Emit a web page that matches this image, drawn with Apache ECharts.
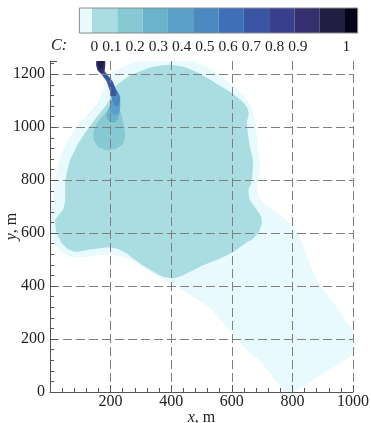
<!DOCTYPE html>
<html><head><meta charset="utf-8">
<script src="https://cdn.jsdelivr.net/npm/echarts@6/dist/echarts.min.js"></script>
<style>html,body{margin:0;padding:0;background:#fff}#c{width:371px;height:423px}</style>
</head><body><div id="c"></div>
<script>
// ---- data ----
const xTickValues = [0, 200, 400, 600, 800, 1000];
const yTickValues = [0, 200, 400, 600, 800, 1000, 1200];
const levelEdges = [-0.05, 0, 0.1, 0.2, 0.3, 0.4, 0.5, 0.6, 0.7, 0.8, 0.9, 1.0, 1.05];
const levelColors = ['#e8fafd','#aadde2','#86c9d3','#6ab3cc','#5aa0c8','#4a88bf','#3f6fb6','#3a55a3','#383f8e','#342f6e','#222040','#05061a'];
const colorLabels = ['0','0.1','0.2','0.3','0.4','0.5','0.6','0.7','0.8','0.9','1'];

// contour regions (x, y in metres), each filled with the colour of its level
const haloOutline = [[182,1185],[205,1205],[235,1225],[270,1242],[315,1250],[470,1250],[520,1225],[565,1190],[600,1160],[640,1120],[668,1065],[680,1000],[686,930],[693,860],[688,800],[682,765],[695,728],[720,700],[755,672],[790,640],[815,605],[832,560],[850,510],[869,448],[900,390],[940,330],[975,270],[1000,225],[1000,146],[957,108],[902,71],[850,32],[815,6],[800,0],[778,0],[759,20],[726,71],[693,118],[660,148],[627,186],[594,234],[561,272],[528,318],[470,362],[415,400],[363,432],[308,470],[253,506],[198,520],[150,515],[110,510],[70,510],[40,528],[20,550],[0,586],[0,665],[9,700],[14,787],[30,875],[53,938],[86,1000],[128,1051],[160,1098],[176,1150]];
const mainOutline = [[200,1118],[220,1158],[264,1195],[300,1212],[330,1225],[370,1234],[400,1236],[440,1228],[484,1208],[539,1172],[594,1134],[630,1102],[650,1076],[656,1050],[650,1020],[652,985],[660,925],[670,875],[668,820],[664,787],[655,762],[660,724],[680,692],[697,662],[699,636],[690,605],[670,578],[649,565],[605,529],[561,504],[495,473],[440,441],[407,429],[374,435],[341,454],[297,485],[253,523],[220,542],[187,546],[132,538],[88,529],[62,538],[40,560],[28,585],[20,610],[17,649],[28,668],[44,690],[50,724],[50,787],[56,830],[66,875],[93,938],[121,988],[154,1038],[180,1075],[195,1100]];
const dropOutline = [[215,1107],[226,1082],[236,1045],[244,1007],[248,969],[242,938],[220,919],[187,913],[160,925],[145,950],[143,981],[154,1013],[176,1045],[198,1070],[209,1095]];
const coreOutline = [[210,1135],[226,1122],[232,1095],[230,1058],[224,1030],[212,1018],[196,1020],[186,1038],[190,1062],[200,1088],[205,1112]];
const innerOutline = [[206,1110],[226,1108],[232,1080],[228,1055],[215,1045],[202,1055],[198,1080]];
const jetOutline = [[204,1140],[220,1140],[232,1115],[230,1092],[222,1078],[212,1085],[205,1105],[200,1125]];
const bandOutline = [[153,1250],[154,1228],[163,1210],[186,1174],[197,1140],[203,1118],[218,1120],[219,1138],[206,1174],[181,1211],[178,1230],[178,1250]];
const sourceOutline = [[155,1250],[153,1235],[157,1215],[166,1205],[176,1206],[181,1220],[182,1250]];
const coreSourceOutline = [[159,1250],[158,1232],[164,1220],[173,1222],[177,1250]];

const regions = [
  {level: 0, pts: haloOutline},
  {level: 1, pts: mainOutline},
  {level: 2, pts: dropOutline},
  {level: 3, pts: coreOutline},
  {level: 4, pts: innerOutline},
  {level: 5, pts: jetOutline},
  {level: 7, pts: bandOutline},
  {level: 9, pts: sourceOutline},
  {level: 10, pts: coreSourceOutline}
];

const serif = '"Liberation Serif", "Times New Roman", serif';
const ink = '#222';
const axisColor = '#555';
const gridColor = '#808080';

const chart = echarts.init(document.getElementById('c'), null, {renderer: 'canvas'});
const labelRow = colorLabels.slice(0, -1).join(' ') + ' '.repeat(9) + colorLabels[colorLabels.length - 1];

chart.setOption({
  animation: false,
  backgroundColor: '#fff',
  grid: [
    {left: 50, right: 18, top: 61, bottom: 31, containLabel: false, outerBoundsMode: 'none'},
    {left: 92, right: 26, top: 8, height: 25, containLabel: false, outerBoundsMode: 'none'}
  ],
  xAxis: [
    {
      gridIndex: 0, type: 'value', min: 0, max: 1000, interval: 200, z: 5,
      axisLine: {show: true, onZero: false, lineStyle: {color: axisColor, width: 1}},
      axisTick: {show: true, inside: true, length: 7, lineStyle: {color: axisColor}},
      minorTick: {show: true, splitNumber: 5, length: 4, lineStyle: {color: axisColor}},
      axisLabel: {formatter: v => (v === 0 ? '' : String(v)), fontFamily: serif, fontSize: 16, color: ink, margin: 2},
      splitLine: {show: true, showMinLine: false, lineStyle: {color: gridColor, type: [9, 4], width: 1}},
      name: '{i|x}, m', nameLocation: 'middle', nameGap: 18, nameMoveOverlap: false,
      nameTextStyle: {fontFamily: serif, fontSize: 16, color: ink, rich: {i: {fontStyle: 'italic', fontFamily: serif, fontSize: 16, color: ink}}}
    },
    {gridIndex: 1, type: 'value', min: 0, max: 1, show: false}
  ],
  yAxis: [
    {
      gridIndex: 0, type: 'value', position: 'left', offset: 0, min: 0, max: 1250, interval: 200, z: 5,
      axisLine: {show: true, onZero: false, lineStyle: {color: axisColor, width: 1}},
      axisTick: {show: true, inside: true, length: 7, lineStyle: {color: axisColor}},
      axisLabel: {formatter: v => (v > 1200 ? '' : String(v)), fontFamily: serif, fontSize: 16, color: ink, margin: 5},
      splitLine: {show: true, showMinLine: false, showMaxLine: false, lineStyle: {color: gridColor, type: [9, 4], width: 1}},
      name: '{i|y}, m', nameLocation: 'middle', nameGap: 30, nameRotate: 90, nameMoveOverlap: false,
      nameTextStyle: {fontFamily: serif, fontSize: 16, color: ink, rich: {i: {fontStyle: 'italic', fontFamily: serif, fontSize: 16, color: ink}}}
    },
    {
      gridIndex: 0, type: 'value', position: 'left', offset: 0, min: 0, max: 1250, interval: 40, z: 5,
      axisLine: {show: false},
      axisTick: {show: true, inside: true, length: 4, lineStyle: {color: axisColor}},
      axisLabel: {show: false},
      splitLine: {show: false}
    },
    {gridIndex: 1, type: 'value', min: 0, max: 1, show: false}
  ],
  graphic: [
    {type: 'text', left: 51, top: 38, style: {text: 'C:', font: 'italic 16px ' + serif, fill: ink}},
    {type: 'text', left: 90.5, top: 39, style: {text: labelRow, font: '15.5px ' + serif, fill: ink}}
  ],
  series: [
    {
      type: 'custom', xAxisIndex: 0, yAxisIndex: 0, z: 2, silent: true, clip: true,
      data: regions.map((r, i) => [i]),
      renderItem: (params, api) => {
        const r = regions[params.dataIndex];
        return {
          type: 'polygon',
          shape: {points: r.pts.map(p => api.coord(p)), smooth: 0.15},
          style: {fill: levelColors[r.level], stroke: null}
        };
      }
    },
    {
      type: 'custom', xAxisIndex: 1, yAxisIndex: 2, silent: true, clip: false,
      data: levelColors.map((c, i) => [i]),
      renderItem: (params, api) => {
        const i = params.dataIndex;
        const a = api.coord([levelEdges[i], 1]);
        const b = api.coord([levelEdges[i + 1], 0]);
        return {type: 'rect', shape: {x: a[0], y: a[1], width: b[0] - a[0], height: b[1] - a[1]}, style: {fill: levelColors[i], stroke: null}};
      }
    },
    {
      type: 'custom', xAxisIndex: 1, yAxisIndex: 2, silent: true, clip: false, z: 3,
      data: [[0]],
      renderItem: (params, api) => {
        const a = api.coord([levelEdges[0], 1]);
        const b = api.coord([levelEdges[levelEdges.length - 1], 0]);
        return {type: 'rect', shape: {x: a[0], y: a[1], width: b[0] - a[0], height: b[1] - a[1]}, style: {fill: null, stroke: '#8a8a8a', lineWidth: 1}};
      }
    }
  ]
});
</script></body></html>
